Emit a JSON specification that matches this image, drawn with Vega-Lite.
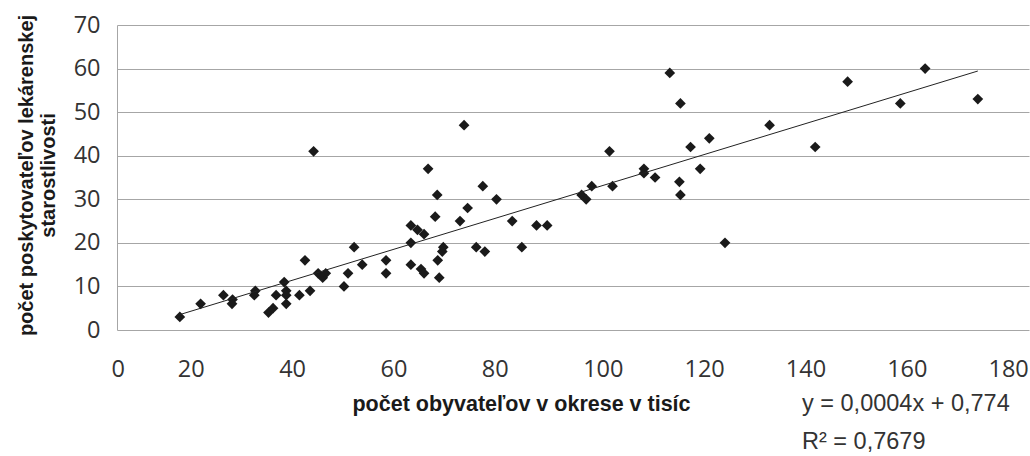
{
  "$schema": "https://vega.github.io/schema/vega-lite/v6.json",
  "width": 912,
  "height": 305,
  "autosize": {"type": "none"},
  "padding": {"left": 117, "top": 25, "right": 1, "bottom": 126},
  "background": "white",
  "config": {"view": {"stroke": null}},
  "datasets": {
    "okresy": [
      {"obyv": 12.4, "lek": 3}, {"obyv": 16.5, "lek": 6}, {"obyv": 21.0, "lek": 8}, {"obyv": 22.8, "lek": 7},
      {"obyv": 22.7, "lek": 6}, {"obyv": 27.3, "lek": 9}, {"obyv": 27.1, "lek": 8}, {"obyv": 29.9, "lek": 4},
      {"obyv": 30.8, "lek": 5}, {"obyv": 31.4, "lek": 8}, {"obyv": 33.0, "lek": 11}, {"obyv": 33.4, "lek": 9},
      {"obyv": 33.4, "lek": 8}, {"obyv": 33.4, "lek": 6}, {"obyv": 36.0, "lek": 8}, {"obyv": 38.1, "lek": 9},
      {"obyv": 37.1, "lek": 16}, {"obyv": 38.8, "lek": 41}, {"obyv": 39.7, "lek": 13}, {"obyv": 40.6, "lek": 12},
      {"obyv": 41.2, "lek": 13}, {"obyv": 44.8, "lek": 10}, {"obyv": 45.6, "lek": 13}, {"obyv": 46.8, "lek": 19},
      {"obyv": 48.4, "lek": 15}, {"obyv": 53.1, "lek": 16}, {"obyv": 53.1, "lek": 13}, {"obyv": 58.0, "lek": 24},
      {"obyv": 58.0, "lek": 20}, {"obyv": 58.0, "lek": 15}, {"obyv": 59.3, "lek": 23}, {"obyv": 60.6, "lek": 22},
      {"obyv": 60.0, "lek": 14}, {"obyv": 60.6, "lek": 13}, {"obyv": 61.4, "lek": 37}, {"obyv": 63.2, "lek": 31},
      {"obyv": 62.8, "lek": 26}, {"obyv": 63.3, "lek": 16}, {"obyv": 63.6, "lek": 12}, {"obyv": 64.2, "lek": 18},
      {"obyv": 64.4, "lek": 19}, {"obyv": 68.5, "lek": 47}, {"obyv": 67.7, "lek": 25}, {"obyv": 69.2, "lek": 28},
      {"obyv": 70.9, "lek": 19}, {"obyv": 72.2, "lek": 33}, {"obyv": 72.6, "lek": 18}, {"obyv": 74.9, "lek": 30},
      {"obyv": 78.0, "lek": 25}, {"obyv": 79.9, "lek": 19}, {"obyv": 82.8, "lek": 24}, {"obyv": 84.9, "lek": 24},
      {"obyv": 91.7, "lek": 31}, {"obyv": 92.6, "lek": 30}, {"obyv": 93.7, "lek": 33}, {"obyv": 97.2, "lek": 41},
      {"obyv": 97.8, "lek": 33}, {"obyv": 104.0, "lek": 37}, {"obyv": 104.0, "lek": 36}, {"obyv": 106.2, "lek": 35},
      {"obyv": 109.1, "lek": 59}, {"obyv": 111.2, "lek": 52}, {"obyv": 111.0, "lek": 34}, {"obyv": 111.2, "lek": 31},
      {"obyv": 113.2, "lek": 42}, {"obyv": 115.1, "lek": 37}, {"obyv": 116.9, "lek": 44}, {"obyv": 120.0, "lek": 20},
      {"obyv": 128.8, "lek": 47}, {"obyv": 137.8, "lek": 42}, {"obyv": 144.2, "lek": 57}, {"obyv": 154.6, "lek": 52},
      {"obyv": 159.5, "lek": 60}, {"obyv": 169.9, "lek": 53}
    ],
    "rovnica": [
      {"riadok": 1, "text": "y = 0,0004x + 0,774"},
      {"riadok": 2, "text": "R² = 0,7679"}
    ]
  },
  "layer": [
    {
      "data": {"name": "okresy"},
      "mark": {"type": "point", "shape": "diamond", "filled": true, "size": 115, "color": "#1a1a1a", "opacity": 1},
      "encoding": {
        "x": {
          "field": "obyv", "type": "quantitative",
          "scale": {"domain": [0, 180], "nice": false},
          "axis": {
            "values": [0, 20, 40, 60, 80, 100, 120, 140, 160, 180],
            "grid": false, "domain": false, "ticks": false,
            "labelAlign": "left",
            "labelOffset": {"condition": {"test": "datum.value == 0", "value": -6}, "value": -41},
            "labelBound": false,
            "labelFont": "Open Sans", "labelFontSize": 23.5, "labelColor": "#333333", "labelPadding": 27,
            "title": "počet obyvateľov v okrese v tisíc",
            "titleFont": "Liberation Sans", "titleFontSize": 21.5, "titleFontWeight": "bold", "titleColor": "#1a1a1a",
            "titleX": 404, "titleY": 74, "titleAlign": "center", "titleBaseline": "middle", "titleAnchor": null
          }
        },
        "y": {
          "field": "lek", "type": "quantitative",
          "scale": {"domain": [0, 70], "nice": false},
          "axis": {
            "values": [0, 10, 20, 30, 40, 50, 60, 70],
            "grid": true, "gridColor": "#a6a6a6", "gridWidth": 1,
            "domain": true, "domainColor": "#a6a6a6", "ticks": false,
            "labelFont": "Open Sans", "labelFontSize": 23.5, "labelColor": "#333333", "labelPadding": 17,
            "title": ["počet poskytovateľov lekárenskej", "starostlivosti"],
            "titleFont": "Liberation Sans", "titleFontSize": 20, "titleFontWeight": "bold", "titleColor": "#1a1a1a",
            "titleAngle": -90, "titleX": -91, "titleY": 150, "titleAlign": "center", "titleBaseline": "middle",
            "titleLineHeight": 22
          }
        }
      }
    },
    {
      "data": {"name": "okresy"},
      "transform": [{"regression": "lek", "on": "obyv"}],
      "mark": {"type": "line", "color": "#222222", "strokeWidth": 1},
      "encoding": {
        "x": {"field": "obyv", "type": "quantitative"},
        "y": {"field": "lek", "type": "quantitative"}
      }
    },
    {
      "data": {"name": "rovnica"},
      "transform": [{"filter": "datum.riadok == 1"}],
      "mark": {"type": "text", "align": "left", "baseline": "middle", "font": "Liberation Sans", "fontWeight": "normal", "fontSize": 23.5, "color": "#333333"},
      "encoding": {
        "x": {"datum": 135.2},
        "y": {"datum": -17},
        "text": {"field": "text"}
      }
    },
    {
      "data": {"name": "rovnica"},
      "transform": [{"filter": "datum.riadok == 2"}],
      "mark": {"type": "text", "align": "left", "baseline": "middle", "font": "Liberation Sans", "fontWeight": "normal", "fontSize": 23.5, "color": "#333333"},
      "encoding": {
        "x": {"datum": 135.2},
        "y": {"datum": -25.6},
        "text": {"field": "text"}
      }
    }
  ]
}
